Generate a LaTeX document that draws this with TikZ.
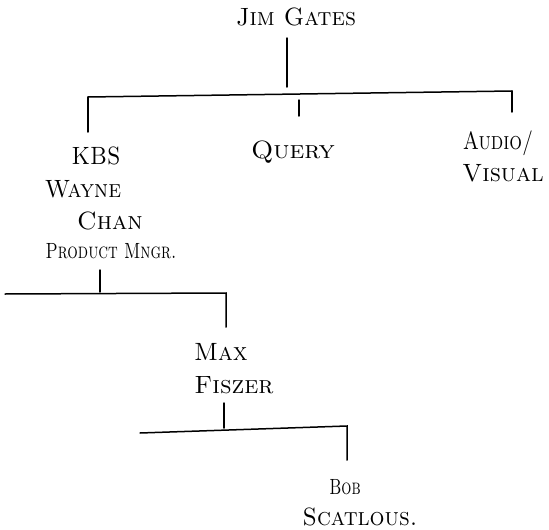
\documentclass[tikz,border=0pt]{standalone}
\usepackage{graphicx}
\usepackage{tikz}
\newcommand\hand[2]{\scalebox{#1}[1]{#2}}
\begin{document}
\begin{tikzpicture}[x=1pt,y=-1pt,
    pen/.style={line width=1.5pt,line cap=round},
    person/.style={font=\fontsize{25}{30}\selectfont\scshape,inner sep=1pt},
    smallperson/.style={person,font=\fontsize{22}{26}\selectfont\scshape}]
  \useasboundingbox (0,0) rectangle (549,530);

  % people and groups
  \node[person] (jim) at (296,17) {\hand{0.96}{Jim Gates}};
  \node[person] (kbs) at (96,156) {\hand{0.88}{KBS}};
  \node[person] (wayne) at (83,189) {\hand{0.92}{Wayne}};
  \node[person] (chan) at (110,221) {\hand{1.0}{Chan}};
  \node[smallperson] (mngr) at (111,251) {\hand{0.75}{Product Mngr.}};
  \node[person] (query) at (293,152) {\hand{1.06}{Query}};
  \node[person] (audio) at (498,143) {\hand{0.8}{Audio/}};
  \node[person] (visual) at (503,173) {\hand{0.98}{Visual}};
  \node[person] (max) at (221,352) {\hand{0.97}{Max}};
  \node[person] (fiszer) at (234,385) {\hand{1.01}{Fiszer}};
  \node[smallperson] (bob) at (345,487) {\hand{0.72}{Bob}};
  \node[person] (scat) at (360,517) {\hand{0.94}{Scatlous.}};

  % first level
  \coordinate (jimB) at (287,38);
  \coordinate (jimT) at (287,87);
  \coordinate (busL) at (88,97);
  \coordinate (busR) at (512,91);
  \coordinate (kbsT) at (88,132);
  \coordinate (queryA) at (299,100);
  \coordinate (queryT) at (299,116);
  \coordinate (audioT) at (512,112);
  \draw[pen] (jimB) -- (jimT);
  \draw[pen] (busL) -- (busR);
  \draw[pen] (busL) -- (kbsT);
  \draw[pen] (queryA) -- (queryT);
  \draw[pen] (busR) -- (audioT);

  % second level
  \coordinate (mngrB) at (100,270);
  \coordinate (mngrT) at (100,292);
  \coordinate (bus2L) at (5,294);
  \coordinate (bus2R) at (226,293);
  \coordinate (maxT) at (226,327);
  \draw[pen] (mngrB) -- (mngrT);
  \draw[pen] (bus2L) -- (bus2R) -- (maxT);

  % third level
  \coordinate (fiszerB) at (224,403);
  \coordinate (fiszerT) at (224,428);
  \coordinate (bus3L) at (140,433);
  \coordinate (bus3R) at (347,426);
  \coordinate (bobT) at (347,460);
  \draw[pen] (fiszerB) -- (fiszerT);
  \draw[pen] (bus3L) -- (bus3R) -- (bobT);
\end{tikzpicture}
\end{document}
